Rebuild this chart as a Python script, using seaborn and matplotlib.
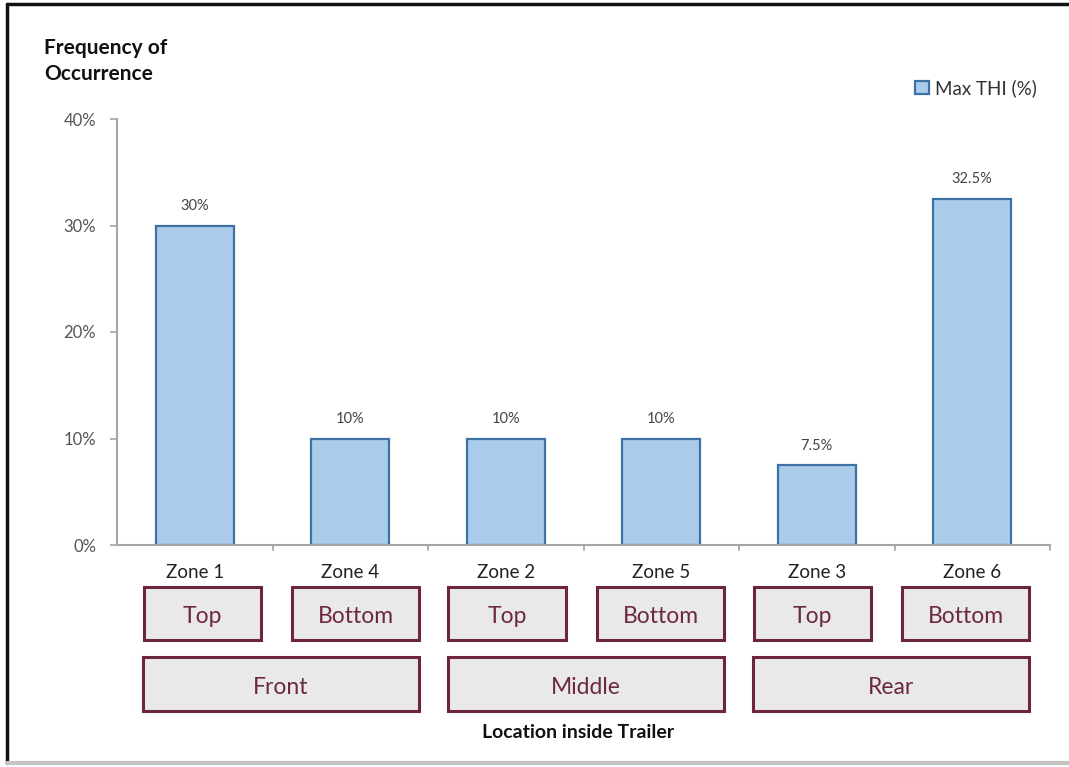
import matplotlib
matplotlib.use("Agg")
import matplotlib.pyplot as plt
import matplotlib.transforms as mtransforms
from matplotlib.patches import Rectangle, Patch
from matplotlib.lines import Line2D
import seaborn as sns
import pandas as pd

# Data
zones = ["Zone 1", "Zone 4", "Zone 2", "Zone 5", "Zone 3", "Zone 6"]
max_thi = [30.0, 10.0, 10.0, 10.0, 7.5, 32.5]
value_labels = ["30%", "10%", "10%", "10%", "7.5%", "32.5%"]
levels = ["Top", "Bottom", "Top", "Bottom", "Top", "Bottom"]
sections = ["Front", "Middle", "Rear"]
y_ticks = [0, 10, 20, 30, 40]
y_tick_labels = ["0%", "10%", "20%", "30%", "40%"]
series_name = "Max THI (%)"

sns.set_theme(style="white")
plt.rcParams["font.family"] = ["Lato", "DejaVu Sans"]

BAR_FILL = "#abcbea"
BAR_EDGE = "#3e72a5"
AXIS_GREY = "#a6a6a6"
BOX_FILL = "#e9e9e9"
BOX_EDGE = "#6d2639"
BOX_TEXT = "#6d2a3c"

W, H = 1069, 767
fig = plt.figure(figsize=(W / 100, H / 100), dpi=100)
fig.patch.set_facecolor("white")

def fx(px):
    return px / W

def fy(py):
    return 1 - py / H

ax = fig.add_axes([fx(117), fy(545), fx(1050) - fx(117), fy(119) - fy(545)])

df = pd.DataFrame({"zone": zones, "value": max_thi})
sns.barplot(data=df, x="zone", y="value", order=zones, color=BAR_FILL,
            width=0.5, edgecolor=BAR_EDGE, linewidth=1.6, saturation=1,
            ax=ax)

ax.set_xlim(-0.5, len(zones) - 0.5)
ax.set_ylim(0, 40)
ax.set_yticks(y_ticks)
ax.set_yticklabels(y_tick_labels, color="#555555", fontsize=12)
ax.set_xticks([])
ax.set_xlabel("")
ax.set_ylabel("")

for side in ["top", "right"]:
    ax.spines[side].set_visible(False)
for side in ["left", "bottom"]:
    ax.spines[side].set_color(AXIS_GREY)
    ax.spines[side].set_linewidth(1.5)

ax.tick_params(axis="y", which="both", left=True, length=5, width=1.2,
               color=AXIS_GREY, pad=10)

# Category-boundary ticks under the x axis
tick_trans = mtransforms.blended_transform_factory(ax.transData, ax.transAxes)
for b in [i + 0.5 for i in range(len(zones))]:
    ax.add_line(Line2D([b, b], [0, -0.012], transform=tick_trans,
                       color=AXIS_GREY, lw=1.3, clip_on=False))

# Value labels above bars
for i, (v, lab) in enumerate(zip(max_thi, value_labels)):
    ax.annotate(lab, (i, v), xytext=(0, 14), textcoords="offset points",
                ha="center", va="center", fontsize=10.5, color="#444444")

# Zone names under the axis
row_trans = mtransforms.blended_transform_factory(ax.transData, fig.transFigure)
for i, z in enumerate(zones):
    ax.text(i, fy(572), z, transform=row_trans, ha="center", va="center",
            fontsize=13.5, color="#222222", clip_on=False)

# Location boxes (pixel extents of the annotation panel)
level_boxes = [(144, 261), (292, 419), (448, 566), (597, 724), (754, 871), (902, 1029)]
section_boxes = [(143, 419), (448, 724), (753, 1029)]

def draw_box(x0, x1, ytop, ybot, label):
    fig.add_artist(Rectangle((fx(x0), fy(ybot)), fx(x1) - fx(x0),
                             fy(ytop) - fy(ybot), transform=fig.transFigure,
                             facecolor=BOX_FILL, edgecolor=BOX_EDGE, lw=2.2))
    fig.text(fx((x0 + x1) / 2), fy((ytop + ybot) / 2 + 3), label,
             ha="center", va="center", fontsize=16.5, color=BOX_TEXT)

for (x0, x1), lev in zip(level_boxes, levels):
    draw_box(x0, x1, 587, 640, lev)
for (x0, x1), sec in zip(section_boxes, sections):
    draw_box(x0, x1, 657, 711, sec)

fig.text(fx(578), fy(732), "Location inside Trailer", ha="center",
         va="center", fontsize=14, fontweight="bold", color="#111111")

# Y axis title
fig.text(fx(44), fy(38), "Frequency of\nOccurrence", ha="left", va="top",
         fontsize=15, fontweight="bold", color="#111111", linespacing=1.35)

# Legend
handle = Patch(facecolor=BAR_FILL, edgecolor=BAR_EDGE, linewidth=1.6,
               label=series_name)
fig.legend(handles=[handle], loc="center left",
           bbox_to_anchor=(fx(898), fy(88)), frameon=False, fontsize=13.5,
           handlelength=0.75, handleheight=0.75, handletextpad=0.3,
           labelcolor="#333333")

# Outer frame
fig.add_artist(Line2D([fx(7), fx(7)], [fy(4), fy(763)], transform=fig.transFigure,
                      color="#111111", lw=2.5))
fig.add_artist(Line2D([fx(7), 1], [fy(4), fy(4)], transform=fig.transFigure,
                      color="#111111", lw=2.5))
fig.add_artist(Line2D([fx(7), 1], [fy(763), fy(763)], transform=fig.transFigure,
                      color="#c4c4c4", lw=3))

fig.savefig("out.png", dpi=100, facecolor="white")
